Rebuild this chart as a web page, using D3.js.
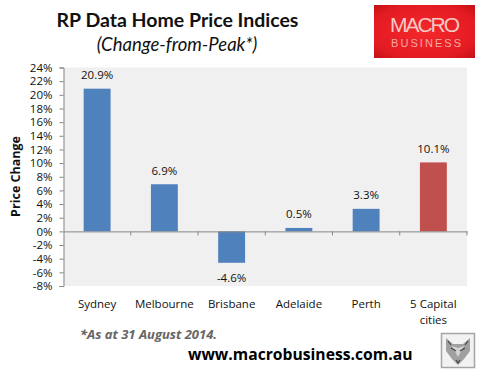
<!DOCTYPE html>
<html>
<head>
<meta charset="utf-8">
<script src="https://cdn.jsdelivr.net/npm/d3@7"></script>
<style>
    html, body { margin: 0; padding: 0; background: #fff; }
    svg { display: block; }
    text { font-family: "Open Sans", sans-serif; fill: #111; }
</style>
</head>
<body>
<div id="chart"></div>
<script>
// values
const cities = ["Sydney", "Melbourne", "Brisbane", "Adelaide", "Perth", "5 Capital cities"];
const changes = [20.9, 6.9, -4.6, 0.5, 3.3, 10.1];
const barColors = ["#4f81bd", "#4f81bd", "#4f81bd", "#4f81bd", "#4f81bd", "#c0504d"];
const yTicks = [24, 22, 20, 18, 16, 14, 12, 10, 8, 6, 4, 2, 0, -2, -4, -6, -8];

const width = 481, height = 377;
const margin = { top: 67.5, right: 14, bottom: 91, left: 63.5 };
const innerW = width - margin.left - margin.right;
const innerH = height - margin.top - margin.bottom;

const svg = d3.select("#chart").append("svg")
    .attr("width", width)
    .attr("height", height);

// Set the scales
const x = d3.scaleBand().domain(cities).range([0, innerW]).paddingInner(0.6).paddingOuter(0.3);
const band = d3.scaleBand().domain(cities).range([0, innerW]);
const y = d3.scaleLinear().domain([-8, 24]).range([innerH, 0]);

const g = svg.append("g")
    .attr("transform", "translate(" + margin.left + "," + margin.top + ")");

// plot background
g.append("rect")
    .attr("width", innerW)
    .attr("height", innerH)
    .attr("fill", "#f0f0f0");

// bars
g.selectAll("rect.bar")
    .data(cities)
    .enter()
    .append("rect")
    .attr("class", "bar")
    .attr("x", d => x(d))
    .attr("width", x.bandwidth())
    .attr("y", (d, i) => y(Math.max(0, changes[i])))
    .attr("height", (d, i) => Math.abs(y(changes[i]) - y(0)))
    .attr("fill", (d, i) => barColors[i]);

// value labels
g.selectAll("text.value")
    .data(cities)
    .enter()
    .append("text")
    .attr("class", "value")
    .attr("text-anchor", "middle")
    .attr("font-size", 11.5)
    .attr("x", d => x(d) + x.bandwidth() / 2)
    .attr("y", (d, i) => changes[i] < 0 ? y(changes[i]) + 19 : y(changes[i]) - 9.5)
    .text((d, i) => changes[i].toFixed(1) + "%");

// y axis
const yAxis = d3.axisLeft(y)
    .tickValues(yTicks)
    .tickSize(4)
    .tickPadding(7)
    .tickFormat(d => d + "%");

const yAxisG = g.append("g").call(yAxis);
yAxisG.selectAll("text").attr("font-size", 11.5).style("font-family", '"Open Sans", sans-serif').attr("fill", "#111");
yAxisG.selectAll("line, path").attr("stroke", "#868686");

// x axis sits on the zero line, labels hang under the plot
const xAxis = d3.axisBottom(band).tickSize(0).tickFormat("");
const xAxisG = g.append("g")
    .attr("transform", "translate(0," + y(0) + ")")
    .call(xAxis);
xAxisG.selectAll("path").attr("stroke", "#868686");
xAxisG.selectAll("line.sep")
    .data(cities)
    .enter()
    .append("line")
    .attr("class", "sep")
    .attr("x1", d => band(d) + band.bandwidth())
    .attr("x2", d => band(d) + band.bandwidth())
    .attr("y1", 0)
    .attr("y2", 4)
    .attr("stroke", "#868686");

const catLabels = g.selectAll("text.cat")
    .data(cities)
    .enter()
    .append("text")
    .attr("class", "cat")
    .attr("text-anchor", "middle")
    .attr("font-size", 11.5)
    .attr("y", innerH + 22);

catLabels.each(function(d) {
    // last label wraps in two lines
    let lines = d === "5 Capital cities" ? ["5 Capital", "cities"] : [d];
    let label = d3.select(this);
    lines.forEach((line, i) => {
        label.append("tspan")
            .attr("x", band(d) + band.bandwidth() / 2)
            .attr("dy", i === 0 ? 0 : 16)
            .text(line);
    });
});

// y axis title
svg.append("text")
    .attr("text-anchor", "middle")
    .attr("transform", "translate(20,176.5) rotate(-90)")
    .attr("font-size", 12.5)
    .attr("font-weight", 700)
    .text("Price Change");

// titles
svg.append("text")
    .attr("x", 177.5)
    .attr("y", 27)
    .attr("text-anchor", "middle")
    .attr("font-size", 19.5)
    .attr("font-weight", 700)
    .style("font-family", "Lato, sans-serif")
    .text("RP Data Home Price Indices");

svg.append("text")
    .attr("x", 177)
    .attr("y", 51)
    .attr("text-anchor", "middle")
    .attr("font-size", 18.5)
    .attr("font-style", "italic")
    .style("font-family", "Lato, sans-serif")
    .text("(Change-from-Peak*)");

// footnote
svg.append("text")
    .attr("x", 80)
    .attr("y", 339)
    .attr("font-size", 13)
    .attr("font-weight", 700)
    .attr("font-style", "italic")
    .style("fill", "#666")
    .text("*As at 31 August 2014.");

svg.append("text")
    .attr("x", 188)
    .attr("y", 359.5)
    .attr("font-size", 15.7)
    .attr("font-weight", 700)
    .style("fill", "#000")
    .text("www.macrobusiness.com.au");

// logo
const defs = svg.append("defs");
const logoGrad = defs.append("radialGradient").attr("id", "logoGrad").attr("r", "0.75");
logoGrad.append("stop").attr("offset", "0%").attr("stop-color", "#f4282c");
logoGrad.append("stop").attr("offset", "70%").attr("stop-color", "#e31b22");
logoGrad.append("stop").attr("offset", "100%").attr("stop-color", "#b90f14");

svg.append("rect")
    .attr("x", 374).attr("y", 5)
    .attr("width", 101).attr("height", 53)
    .attr("fill", "url(#logoGrad)");

svg.append("text")
    .attr("x", 425).attr("y", 32)
    .attr("text-anchor", "middle")
    .attr("font-size", 21)
    .attr("textLength", 70)
    .style("font-family", '"Liberation Sans", sans-serif')
    .style("fill", "#f7c9c4")
    .text("MACRO");

svg.append("text")
    .attr("x", 426).attr("y", 46.5)
    .attr("text-anchor", "middle")
    .attr("font-size", 11)
    .attr("textLength", 70)
    .style("font-family", '"Liberation Sans", sans-serif')
    .style("fill", "#f4a9a4")
    .text("BUSINESS");

// small wolf badge
const wolf = svg.append("g").attr("transform", "translate(441,333)");
wolf.append("rect")
    .attr("x", 0.5).attr("y", 0.5)
    .attr("width", 33).attr("height", 34)
    .attr("fill", "#f2f2f2")
    .attr("stroke", "#a5a5a5")
    .attr("stroke-width", 1.5);
wolf.append("path")
    .attr("d", "M5 5 L12 11 L22 11 L29 5 L29 18 L23 26 L17 32 L11 26 L5 18 Z")
    .attr("fill", "#a0a0a0");
wolf.append("path")
    .attr("d", "M11 13 L17 24 L23 13 L17 15 Z")
    .attr("fill", "#d2d2d2");
wolf.append("path")
    .attr("d", "M10 15 L15 18 M24 15 L19 18 M15 27 L17 30 L19 27 M7 8 L10 12 M27 8 L24 12")
    .attr("stroke", "#444")
    .attr("stroke-width", 1.2)
    .attr("fill", "none");
</script>
</body>
</html>
